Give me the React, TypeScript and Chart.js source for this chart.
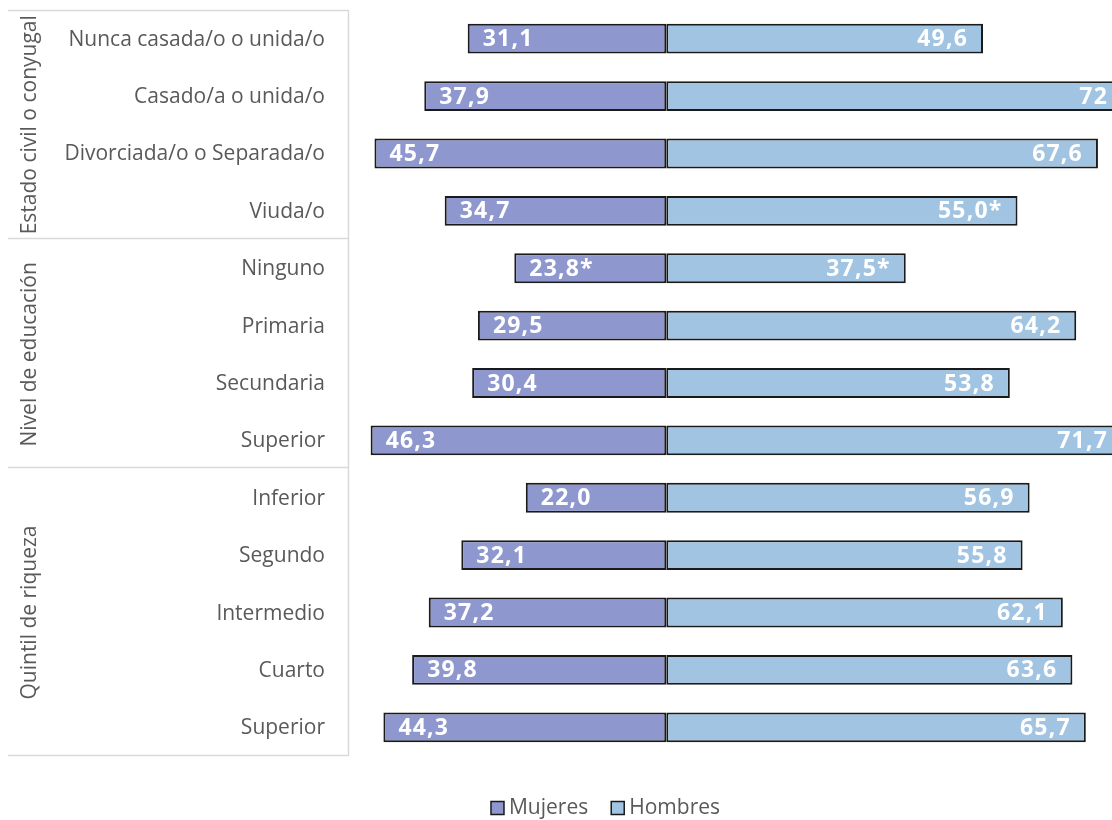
import React, { useEffect, useRef } from "react";
import { Chart, registerables } from "chart.js";

Chart.register(...registerables);

const categories = [
  "Nunca casada/o o unida/o",
  "Casado/a o unida/o",
  "Divorciada/o o Separada/o",
  "Viuda/o",
  "Ninguno",
  "Primaria",
  "Secundaria",
  "Superior",
  "Inferior",
  "Segundo",
  "Intermedio",
  "Cuarto",
  "Superior",
];

const groupNames = ["Estado civil o conyugal", "Nivel de educación", "Quintil de riqueza"];
const groupSizes = [4, 4, 5];

const mujeres = [31.1, 37.9, 45.7, 34.7, 23.8, 29.5, 30.4, 46.3, 22.0, 32.1, 37.2, 39.8, 44.3];
const hombres = [49.6, 72.0, 67.6, 55.0, 37.5, 64.2, 53.8, 71.7, 56.9, 55.8, 62.1, 63.6, 65.7];

const mujeresLabels = ["31,1", "37,9", "45,7", "34,7", "23,8*", "29,5", "30,4", "46,3", "22,0", "32,1", "37,2", "39,8", "44,3"];
const hombresLabels = ["49,6", "72", "67,6", "55,0*", "37,5*", "64,2", "53,8", "71,7", "56,9", "55,8", "62,1", "63,6", "65,7"];

const seriesNames = ["Mujeres", "Hombres"];
const seriesColors = ["#8F97CF", "#A0C4E2"];
const borderCol = "#1a1a1a";
const textGray = "#595959";
const lineGray = "#d9d9d9";

const W = 1112;
const H = 820;

const overlayPlugin = {
  id: "overlay",
  afterDatasetsDraw(chart: any) {
    const ctx = chart.ctx;
    const area = chart.chartArea;
    ctx.save();
    ctx.fillStyle = "#ffffff";
    ctx.font = "bold 23px 'Open Sans'";
    ctx.textBaseline = "middle";
    try { (ctx as any).letterSpacing = "1.2px"; } catch (e) {}
    const m0 = chart.getDatasetMeta(0);
    const m1 = chart.getDatasetMeta(1);
    for (let i = 0; i < categories.length; i++) {
      const e0 = m0.data[i];
      const left = Math.min(e0.x, e0.base);
      ctx.textAlign = "left";
      ctx.fillText(mujeresLabels[i], left + 15, e0.y + 1);
      const e1 = m1.data[i];
      const right = Math.max(e1.x, e1.base);
      ctx.textAlign = "right";
      const tx = right > area.right ? area.right - 4 : right - 15;
      ctx.fillText(hombresLabels[i], tx, e1.y + 1);
    }
    ctx.restore();
  },
  afterDraw(chart: any) {
    const ctx = chart.ctx;
    const area = chart.chartArea;
    const ys = chart.scales.y;
    const n = categories.length;
    const step = (area.bottom - area.top) / n;
    ctx.save();
    // category labels
    ctx.fillStyle = textGray;
    ctx.font = "21px 'Open Sans'";
    ctx.textAlign = "right";
    ctx.textBaseline = "middle";
    for (let i = 0; i < n; i++) {
      ctx.fillText(categories[i], 325, ys.getPixelForValue(i) + 1);
    }
    // box lines
    ctx.strokeStyle = lineGray;
    ctx.lineWidth = 1.5;
    const boxRight = 348.5;
    ctx.beginPath();
    ctx.moveTo(8, area.top + 0.5);
    ctx.lineTo(boxRight, area.top + 0.5);
    ctx.moveTo(boxRight, area.top);
    ctx.lineTo(boxRight, area.bottom);
    ctx.moveTo(8, area.bottom - 0.5);
    ctx.lineTo(boxRight, area.bottom - 0.5);
    let acc = 0;
    for (let g = 0; g < groupSizes.length - 1; g++) {
      acc += groupSizes[g];
      const y = Math.round(area.top + acc * step) - 1.5;
      ctx.moveTo(8, y);
      ctx.lineTo(boxRight, y);
    }
    ctx.stroke();
    // group labels
    acc = 0;
    ctx.fillStyle = textGray;
    ctx.font = "21px 'Open Sans'";
    ctx.textAlign = "center";
    ctx.textBaseline = "middle";
    for (let g = 0; g < groupSizes.length; g++) {
      const y0 = area.top + acc * step;
      acc += groupSizes[g];
      const y1 = area.top + acc * step;
      ctx.save();
      ctx.translate(30, (y0 + y1) / 2);
      ctx.rotate(-Math.PI / 2);
      ctx.fillText(groupNames[g], 0, 0);
      ctx.restore();
    }
    // legend
    ctx.font = "21px 'Open Sans'";
    ctx.textAlign = "left";
    const box = 13;
    const gapBox = 5;
    const gapItem = 23;
    const widths = seriesNames.map((s) => ctx.measureText(s).width);
    const total = widths.reduce((a, b) => a + b, 0) + seriesNames.length * (box + gapBox) + gapItem * (seriesNames.length - 1);
    let x = 605.5 - total / 2;
    const ly = 808;
    for (let s = 0; s < seriesNames.length; s++) {
      ctx.fillStyle = seriesColors[s];
      ctx.fillRect(x, ly - box / 2, box, box);
      ctx.strokeStyle = borderCol;
      ctx.lineWidth = 1.5;
      ctx.strokeRect(x, ly - box / 2, box, box);
      ctx.fillStyle = textGray;
      ctx.fillText(seriesNames[s], x + box + gapBox, ly);
      x += box + gapBox + widths[s] + gapItem;
    }
    ctx.restore();
  },
};

export default function App() {
  const ref = useRef<HTMLCanvasElement | null>(null);
  useEffect(() => {
    if (!ref.current) return;
    const chart = new Chart(ref.current, {
      type: "bar",
      data: {
        labels: categories,
        datasets: [
          {
            label: seriesNames[0],
            data: mujeres.map((v) => -v),
            backgroundColor: seriesColors[0],
            borderColor: borderCol,
            borderWidth: 2,
            borderSkipped: false,
            barPercentage: 0.52,
            categoryPercentage: 1,
          },
          {
            label: seriesNames[1],
            data: hombres,
            backgroundColor: seriesColors[1],
            borderColor: borderCol,
            borderWidth: 2,
            borderSkipped: false,
            barPercentage: 0.52,
            categoryPercentage: 1,
          },
        ],
      },
      options: {
        indexAxis: "y",
        responsive: false,
        animation: false,
        layout: { padding: { left: 347, right: 0, top: 10, bottom: 64 } },
        scales: {
          x: { type: "linear", min: -50, max: 69.8, stacked: true, display: false },
          y: { type: "category", stacked: true, display: false, offset: true },
        },
        plugins: {
          legend: { display: false },
          tooltip: { enabled: false },
        },
      } as any,
      plugins: [overlayPlugin],
    });
    return () => chart.destroy();
  }, []);
  return (
    <div style={{ position: "absolute", left: 0, top: 0, width: W, height: H, background: "#fff" }}>
      <canvas ref={ref} width={W} height={H} style={{ width: W, height: H, display: "block" }} />
    </div>
  );
}
